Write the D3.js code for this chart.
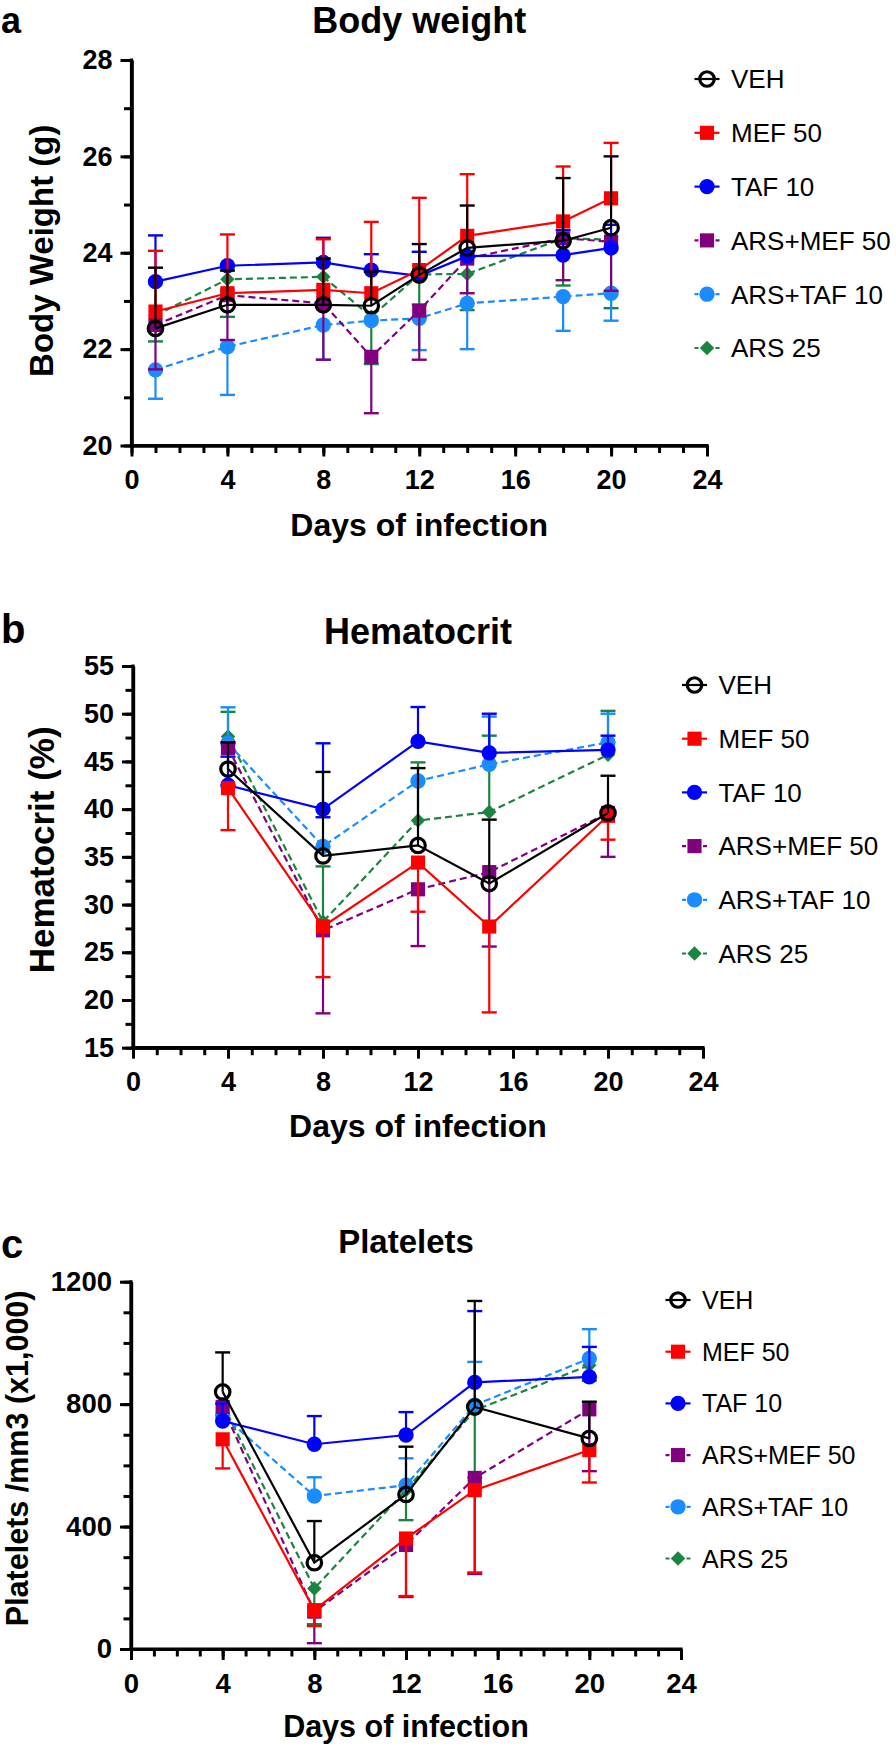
<!DOCTYPE html>
<html><head><meta charset="utf-8">
<script src="https://cdn.jsdelivr.net/npm/d3@7"></script>
<style>
body{margin:0;background:#fff}
svg{display:block}
text{font-family:"Liberation Sans",Arial,Helvetica,sans-serif}
</style>
</head><body>
<svg id="chart" width="896" height="1747"></svg>
<script>
// ---------------- shared series definitions ----------------
const seriesNames  = ["VEH", "MEF 50", "TAF 10", "ARS+MEF 50", "ARS+TAF 10", "ARS 25"];
const seriesColors = ["#000000", "#ff0000", "#0000ff", "#800080", "#1a8cff", "#1b8540"];
const seriesShapes = ["open", "square", "circle", "square", "circle", "diamond"];
const seriesDashed = [false, false, false, true, true, true];
const xTickLabels  = [0, 4, 8, 12, 16, 20, 24];

// ---------------- panel a: Body weight ----------------
const bwDays   = [1, 4, 8, 10, 12, 14, 18, 20];
const bwYTicks = [20, 22, 24, 26, 28];
const bwVEH      = [22.43, 22.92, 22.92, 22.90, 23.54, 24.10, 24.25, 24.52];
const bwVEHhi    = [23.69, 23.63, 23.88, 23.61, 24.18, 24.98, 25.55, 26.00];
const bwVEHlo    = [null, null, null, null, null, null, null, null];
const bwMEF      = [22.78, 23.16, 23.23, 23.16, 23.64, 24.35, 24.65, 25.13];
const bwMEFhi    = [24.04, 24.38, 24.28, 24.64, 25.14, 25.63, 25.79, 26.28];
const bwMEFlo    = [null, null, null, null, null, null, null, null];
const bwTAF      = [23.40, 23.73, 23.80, 23.64, 23.52, 23.93, 23.95, 24.10];
const bwTAFhi    = [24.36, null, 24.31, 23.97, 24.02, null, 24.47, 24.58];
const bwTAFlo    = [null, null, null, null, null, null, null, null];
const bwARSMEF   = [22.50, 23.12, 22.95, 21.84, 22.80, 23.88, 24.30, 24.23];
const bwARSMEFhi = [null, null, null, null, null, null, null, null];
const bwARSMEFlo = [21.58, 22.19, 21.78, 20.67, 21.78, 23.16, 23.43, 23.21];
const bwARSTAF   = [21.57, 22.05, 22.50, 22.59, 22.64, 22.95, 23.09, 23.16];
const bwARSTAFhi = [null, null, null, null, null, null, null, null];
const bwARSTAFlo = [20.97, 21.05, 21.78, null, 21.98, 22.00, 22.38, 22.59];
const bwARS      = [22.70, 23.45, 23.50, 22.67, 23.55, 23.56, 24.30, 24.27];
const bwARShi    = [null, null, null, null, null, null, null, null];
const bwARSlo    = [22.16, 22.67, null, 21.69, 22.92, 22.81, 23.32, 22.85];

// ---------------- panel b: Hematocrit ----------------
const hcDays   = [4, 8, 12, 15, 20];
const hcYTicks = [15, 20, 25, 30, 35, 40, 45, 50, 55];
const hcVEH      = [44.2, 35.1, 36.2, 32.2, 39.6];
const hcVEHhi    = [47.0, 43.9, 44.3, 38.9, 43.5];
const hcVEHlo    = [null, null, null, null, null];
const hcMEF      = [42.2, 27.7, 34.4, 27.7, 39.3];
const hcMEFhi    = [null, null, null, null, null];
const hcMEFlo    = [37.8, 22.4, 29.25, 18.7, 36.8];
const hcTAF      = [42.5, 40.0, 47.1, 45.9, 46.2];
const hcTAFhi    = [45.5, 46.9, 50.7, 50.0, 47.7];
const hcTAFlo    = [null, 39.15, null, null, null];
const hcARSMEF   = [46.4, 27.3, 31.6, 33.4, 39.6];
const hcARSMEFhi = [null, null, null, null, null];
const hcARSMEFlo = [null, 18.6, 25.65, 25.6, 35.0];
const hcARSTAF   = [46.9, 36.1, 42.95, 44.7, 47.0];
const hcARSTAFhi = [50.67, null, null, 49.7, 50.0];
const hcARSTAFlo = [null, null, null, null, null];
const hcARS      = [47.6, 28.2, 38.8, 39.7, 45.7];
const hcARShi    = [50.2, 34.0, 44.9, 47.7, 50.3];
const hcARSlo    = [null, null, null, null, null];

// ---------------- panel c: Platelets ----------------
const plDays   = [4, 8, 12, 15, 20];
const plYTicks = [0, 400, 800, 1200];
const plVEH      = [840, 282, 505, 791, 688];
const plVEHhi    = [969, 418, 661, 1137, 808];
const plVEHlo    = [null, null, null, null, null];
const plMEF      = [685, 127, 361, 519, 650];
const plMEFhi    = [null, null, null, null, null];
const plMEFlo    = [590, 75, 173, 250, 544];
const plTAF      = [745, 669, 699, 871, 889];
const plTAFhi    = [802, 761, 774, 1104, 987];
const plTAFlo    = [null, null, null, null, null];
const plARSMEF   = [791, 122, 340, 559, 783];
const plARSMEFhi = [null, null, null, null, null];
const plARSMEFlo = [null, 19, 170, 245, 581];
const plARSTAF   = [764, 500, 535, 797, 949];
const plARSTAFhi = [null, 561, 623, 938, 1045];
const plARSTAFlo = [null, null, null, null, null];
const plARS      = [800, 198, 519, 780, 927];
const plARShi    = [null, null, null, null, null];
const plARSlo    = [null, 81, 421, 560, 876];

// ---------------- drawing ----------------
const svg = d3.select("#chart");

function shapePath(shape) {
  if (shape === "square") return d3.symbol().type(d3.symbolSquare).size(200)();
  if (shape === "diamond") return d3.symbol().type(d3.symbolSquare).size(105)();
  if (shape === "open") return d3.symbol().type(d3.symbolCircle).size(165)();
  return d3.symbol().type(d3.symbolCircle).size(185)();
}

function drawMarker(g, shape, color, cx, cy) {
  const p = g.append("path").attr("d", shapePath(shape))
    .attr("transform", `translate(${cx},${cy})` + (shape === "diamond" ? " rotate(45)" : ""));
  if (shape === "open") p.attr("fill", "none").attr("stroke", color).attr("stroke-width", 3.2);
  else p.attr("fill", color);
}

function drawPanel(cfg) {
  const g = svg.append("g");
  const x = d3.scaleLinear().domain([0, 24]).range([cfg.x0, cfg.x1]);
  const y = d3.scaleLinear().domain(cfg.yDomain).range([cfg.yBot, cfg.yTop]);

  // axes: minor ticks
  const yMinor = d3.range(cfg.yDomain[0], cfg.yDomain[1] + 1e-9, cfg.yMinorStep);
  const xMinor = d3.range(0, 25, 1);
  const minorY = g.append("g").attr("transform", `translate(${cfg.x0},0)`)
    .call(d3.axisLeft(y).tickValues(yMinor).tickSize(7.5).tickSizeOuter(0).tickFormat(""));
  const minorX = g.append("g").attr("transform", `translate(0,${cfg.yBot})`)
    .call(d3.axisBottom(x).tickValues(xMinor).tickSize(7.5).tickSizeOuter(0).tickFormat(""));
  // major ticks with labels
  const ay = g.append("g").attr("transform", `translate(${cfg.x0},0)`)
    .call(d3.axisLeft(y).tickValues(cfg.yTicks).tickSize(11).tickSizeOuter(0).tickPadding(8).tickFormat(d3.format("d")));
  const ax = g.append("g").attr("transform", `translate(0,${cfg.yBot})`)
    .call(d3.axisBottom(x).tickValues(xTickLabels).tickSize(11).tickSizeOuter(0).tickPadding(13).tickFormat(d3.format("d")));
  [minorY, minorX, ay, ax].forEach(a => {
    a.selectAll("line").attr("stroke", "#000").attr("stroke-width", 3);
    a.select(".domain").attr("stroke", "#000").attr("stroke-width", 3.2);
    a.selectAll("text").attr("fill", "#000").attr("font-size", cfg.tickFont).attr("font-weight", "bold");
  });
  // extend domain lines to meet at the corner
  g.append("line").attr("x1", cfg.x0 - 1.6).attr("x2", cfg.x1 + 1.5)
    .attr("y1", cfg.yBot).attr("y2", cfg.yBot).attr("stroke", "#000").attr("stroke-width", 3.2);
  g.append("line").attr("x1", cfg.x0).attr("x2", cfg.x0)
    .attr("y1", cfg.yTop - 1.5).attr("y2", cfg.yBot + 1.6).attr("stroke", "#000").attr("stroke-width", 3.2);

  // data in reverse order so VEH ends on top
  for (let i = seriesNames.length - 1; i >= 0; i--) {
    const vals = cfg.means[i], his = cfg.his[i], los = cfg.los[i];
    const color = seriesColors[i];
    const sg = g.append("g");
    // error bars
    cfg.days.forEach((d, k) => {
      [his[k], los[k]].forEach(b => {
        if (b === null || b === undefined) return;
        sg.append("line").attr("x1", x(d)).attr("x2", x(d)).attr("y1", y(vals[k])).attr("y2", y(b))
          .attr("stroke", color).attr("stroke-width", 2.2);
        sg.append("line").attr("x1", x(d) - 7.5).attr("x2", x(d) + 7.5).attr("y1", y(b)).attr("y2", y(b))
          .attr("stroke", color).attr("stroke-width", 2.4);
      });
    });
    // connecting line
    const line = d3.line().x((d, k) => x(cfg.days[k])).y(d => y(d));
    sg.append("path").datum(vals).attr("d", line).attr("fill", "none")
      .attr("stroke", color).attr("stroke-width", 2.2)
      .attr("stroke-dasharray", seriesDashed[i] ? "7,4" : null);
    // markers
    cfg.days.forEach((d, k) => drawMarker(sg, seriesShapes[i], color, x(d), y(vals[k])));
  }

  // titles
  g.append("text").attr("x", (cfg.x0 + cfg.x1) / 2).attr("y", cfg.titleY).attr("text-anchor", "middle")
    .attr("font-size", cfg.titleFont).attr("font-weight", "bold").text(cfg.title);
  g.append("text").attr("x", 1).attr("y", cfg.letterY).attr("font-size", cfg.letterFont).attr("font-weight", "bold").text(cfg.letter);
  g.append("text").attr("x", (cfg.x0 + cfg.x1) / 2).attr("y", cfg.xTitleY).attr("text-anchor", "middle")
    .attr("font-size", cfg.xTitleFont).attr("font-weight", "bold").text("Days of infection");
  g.append("text").attr("transform", `translate(${cfg.yTitleX},${(cfg.yTop + cfg.yBot) / 2 + cfg.yTitleDy}) rotate(-90)`)
    .attr("text-anchor", "middle").attr("font-size", cfg.yTitleFont).attr("font-weight", "bold").text(cfg.yTitle);

  // legend
  seriesNames.forEach((name, i) => {
    const ly = cfg.legY + i * cfg.legStep;
    const lg = g.append("g");
    lg.append("line").attr("x1", cfg.legX - 12.5).attr("x2", cfg.legX + 12.5).attr("y1", ly).attr("y2", ly)
      .attr("stroke", seriesColors[i]).attr("stroke-width", 2.2)
      .attr("stroke-dasharray", seriesDashed[i] ? "4,3" : null);
    drawMarker(lg, seriesShapes[i], seriesColors[i], cfg.legX, ly);
    lg.append("text").attr("x", cfg.legX + 24).attr("y", ly).attr("dy", "0.36em")
      .attr("font-size", cfg.legFont).text(name);
  });
}

drawPanel({
  letter: "a", letterY: 33, letterFont: 36, title: "Body weight", titleY: 33, titleFont: 36,
  x0: 131.5, x1: 707, yTop: 60, yBot: 445.5, yDomain: [20, 28], yTicks: bwYTicks, yMinorStep: 1,
  tickFont: 27, xTitleFont: 32, yTitleFont: 33, xTitleY: 536, yTitleX: 53, yTitleDy: -2, yTitle: "Body Weight (g)",
  days: bwDays,
  means: [bwVEH, bwMEF, bwTAF, bwARSMEF, bwARSTAF, bwARS],
  his: [bwVEHhi, bwMEFhi, bwTAFhi, bwARSMEFhi, bwARSTAFhi, bwARShi],
  los: [bwVEHlo, bwMEFlo, bwTAFlo, bwARSMEFlo, bwARSTAFlo, bwARSlo],
  legX: 707, legY: 79, legStep: 53.8, legFont: 26
});

drawPanel({
  letter: "b", letterY: 643, letterFont: 40, title: "Hematocrit", titleY: 644, titleFont: 36,
  x0: 133, x1: 703, yTop: 666, yBot: 1047.7, yDomain: [15, 55], yTicks: hcYTicks, yMinorStep: 2.5,
  tickFont: 27, xTitleFont: 32, yTitleFont: 35, xTitleY: 1137, yTitleX: 54, yTitleDy: -7, yTitle: "Hematocrit (%)",
  days: hcDays,
  means: [hcVEH, hcMEF, hcTAF, hcARSMEF, hcARSTAF, hcARS],
  his: [hcVEHhi, hcMEFhi, hcTAFhi, hcARSMEFhi, hcARSTAFhi, hcARShi],
  los: [hcVEHlo, hcMEFlo, hcTAFlo, hcARSMEFlo, hcARSTAFlo, hcARSlo],
  legX: 694.5, legY: 685, legStep: 53.7, legFont: 26
});

drawPanel({
  letter: "c", letterY: 1258, letterFont: 40, title: "Platelets", titleY: 1253, titleFont: 33,
  x0: 131, x1: 681, yTop: 1281.7, yBot: 1649, yDomain: [0, 1200], yTicks: plYTicks, yMinorStep: 100,
  tickFont: 27.5, xTitleFont: 30.5, yTitleFont: 30.5, xTitleY: 1737, yTitleX: 28, yTitleDy: -7, yTitle: "Platelets /mm3 (x1,000)",
  days: plDays,
  means: [plVEH, plMEF, plTAF, plARSMEF, plARSTAF, plARS],
  his: [plVEHhi, plMEFhi, plTAFhi, plARSMEFhi, plARSTAFhi, plARShi],
  los: [plVEHlo, plMEFlo, plTAFlo, plARSMEFlo, plARSTAFlo, plARSlo],
  legX: 678, legY: 1300, legStep: 51.7, legFont: 25
});
</script>
</body></html>
